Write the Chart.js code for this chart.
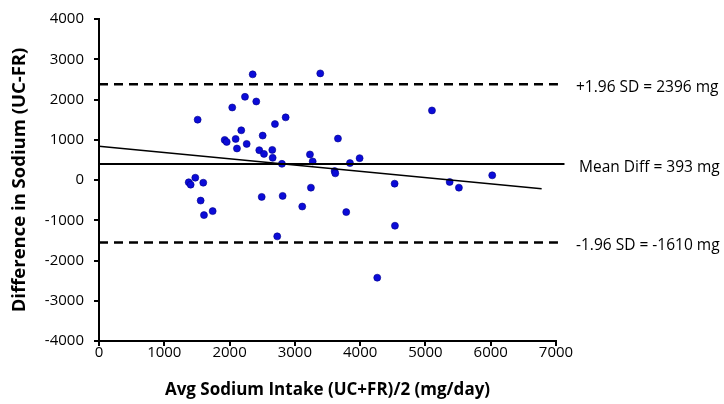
<!DOCTYPE html>
<html lang="en">
<head>
  <meta charset="UTF-8" />
  <title>Bland-Altman Sodium</title>
  <script src="https://cdn.jsdelivr.net/npm/chart.js"></script>
  <style>
    html, body { margin: 0; padding: 0; background: #fff; }
  </style>
</head>
<body>
  <canvas id="baChart" width="724" height="404"></canvas>

  <script>
    // average of the two methods (mg/day)
    const avgIntake = [2354, 3389, 2236, 2409, 2041, 1511, 2859, 2695, 2179, 2507,
                       1925, 1956, 2093, 3660, 2113, 2262, 2455, 2527, 2654, 2660,
                       2802, 3231, 3273, 3609, 3619, 1475, 5100, 3844, 3992, 6023,
                       1374, 1404, 1597, 1557, 1608, 1741, 2492, 2813, 2730, 3113,
                       3246, 3787, 4528, 4533, 4262, 5371, 5513];
    // difference UC - FR (mg)
    const diffSodium = [2625, 2649, 2067, 1951, 1802, 1499, 1556, 1390, 1235, 1104,
                        995, 946, 1020, 1030, 783, 896, 741, 649, 748, 551,
                        402, 635, 462, 222, 165, 57, 1728, 420, 543, 116,
                        -57, -116, -67, -511, -872, -773, -420, -395, -1400, -659,
                        -190, -798, -91, -1136, -2427, -49, -190];

    const upperLimit = 2380;
    const meanDiff = 400;
    const lowerLimit = -1550;
    const refLabels = ["+1.96 SD = 2396 mg", "Mean Diff = 393 mg", "-1.96 SD = -1610 mg"];

    const trendX = [0, 6780];
    const trendY = [840, -215];

    const xTicks = [0, 1000, 2000, 3000, 4000, 5000, 6000, 7000];
    const yTicks = [-4000, -3000, -2000, -1000, 0, 1000, 2000, 3000, 4000];

    const points = avgIntake.map((x, i) => ({ x: x, y: diffSodium[i] }));
    const hline = (v, end) => [{ x: 0, y: v }, { x: end, y: v }];

    // text next to the reference lines
    const refText = {
      id: 'refText',
      afterDraw(chart) {
        const ctx = chart.ctx;
        const y = chart.scales.y;
        const r = chart.chartArea.right;
        ctx.save();
        ctx.fillStyle = '#000';
        ctx.font = '15.5px "Open Sans"';
        ctx.textBaseline = 'middle';
        ctx.textAlign = 'left';
        ctx.fillText(refLabels[0], r + 20, y.getPixelForValue(upperLimit) + 3);
        ctx.fillText(refLabels[1], r + 23, y.getPixelForValue(meanDiff) + 4);
        ctx.fillText(refLabels[2], r + 20, y.getPixelForValue(lowerLimit) + 3);
        ctx.restore();
      }
    };

    new Chart(document.getElementById('baChart'), {
      type: 'scatter',
      data: {
        datasets: [
          {
            data: hline(upperLimit, 7030),
            type: 'line', showLine: true, pointRadius: 0,
            borderColor: '#000', borderWidth: 2.5, borderDash: [9, 6], clip: false
          },
          {
            data: hline(lowerLimit, 7030),
            type: 'line', showLine: true, pointRadius: 0,
            borderColor: '#000', borderWidth: 2.5, borderDash: [9, 6], clip: false
          },
          {
            data: hline(meanDiff, 7130),
            type: 'line', showLine: true, pointRadius: 0,
            borderColor: '#000', borderWidth: 2, clip: false
          },
          {
            data: trendX.map((x, i) => ({ x: x, y: trendY[i] })),
            type: 'line', showLine: true, pointRadius: 0,
            borderColor: '#000', borderWidth: 1.5, clip: false
          },
          {
            data: points,
            pointRadius: 3.5,
            backgroundColor: '#0b0bd8',
            borderColor: '#00008a',
            borderWidth: 0.6
          }
        ]
      },
      options: {
        responsive: false,
        animation: false,
        devicePixelRatio: 1,
        layout: { padding: { left: 0, right: 168, top: 17, bottom: 0 } },
        plugins: { legend: { display: false }, tooltip: { enabled: false } },
        scales: {
          x: {
            type: 'linear', min: 0, max: 7000,
            afterBuildTicks: s => { s.ticks = xTicks.map(v => ({ value: v })); },
            afterFit: s => { s.height = 63; },
            border: { color: '#000', width: 2 },
            grid: { drawOnChartArea: false, color: '#000', lineWidth: 2, tickLength: 5 },
            ticks: {
              color: '#000', font: { family: 'Open Sans', size: 15 }, padding: -2,
              callback: v => String(v)
            },
            title: {
              display: true, text: 'Avg Sodium Intake (UC+FR)/2 (mg/day)',
              color: '#000', font: { family: 'Open Sans', size: 17, weight: 'bold' },
              padding: { top: 10 }
            }
          },
          y: {
            type: 'linear', min: -4000, max: 4000,
            afterBuildTicks: s => { s.ticks = yTicks.map(v => ({ value: v })); },
            afterFit: s => { s.width = 99; },
            border: { color: '#000', width: 2 },
            grid: { drawOnChartArea: false, color: '#000', lineWidth: 2, tickLength: 5 },
            ticks: {
              color: '#000', font: { family: 'Open Sans', size: 15 }, padding: 10,
              callback: v => String(v)
            },
            title: {
              display: true, text: 'Difference in Sodium (UC-FR)',
              color: '#000', font: { family: 'Open Sans', size: 18.5, weight: 'bold' },
              padding: { top: 9, bottom: 4 }
            }
          }
        }
      },
      plugins: [refText]
    });
  </script>
</body>
</html>
